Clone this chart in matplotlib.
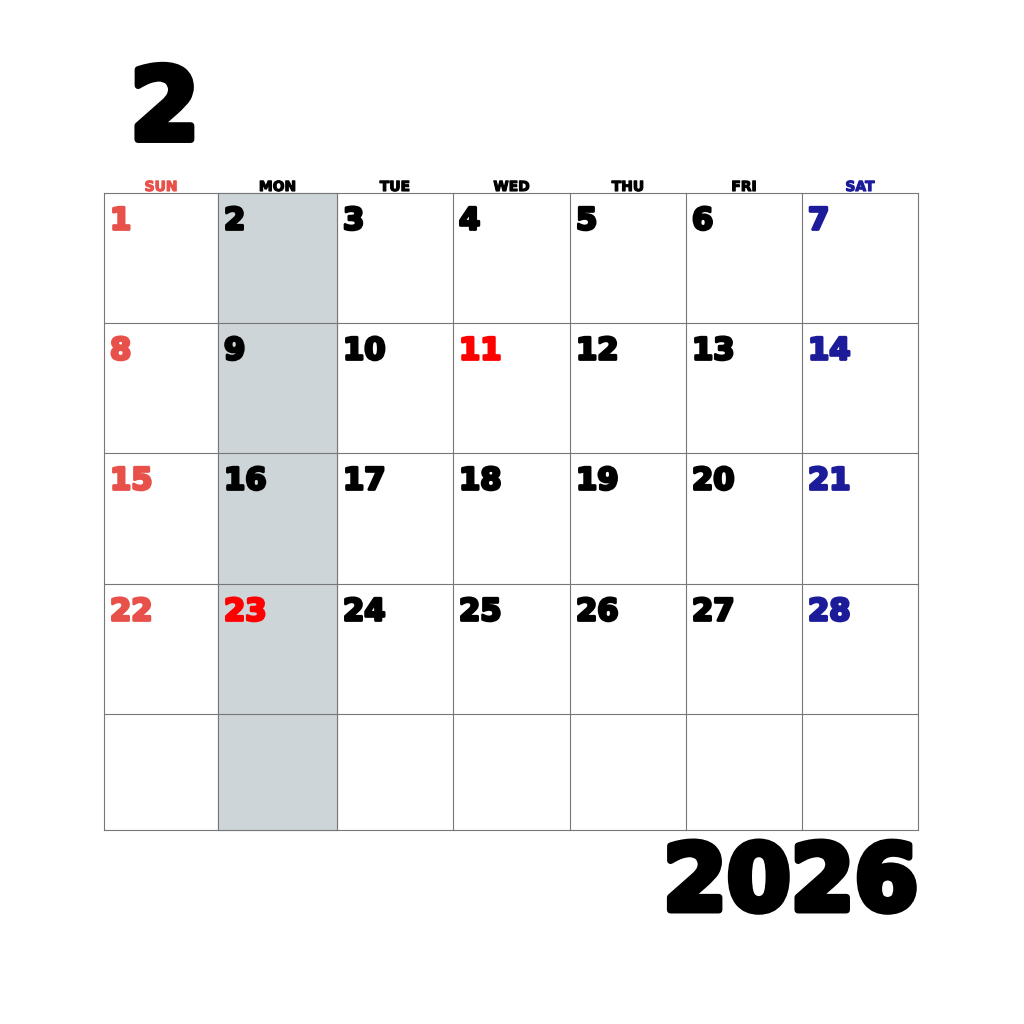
import matplotlib
matplotlib.use("Agg")
import matplotlib.pyplot as plt
import matplotlib.patheffects as pe

month = "2"
year = "2026"
weekdays = ["SUN", "MON", "TUE", "WED", "THU", "FRI", "SAT"]
days = list(range(1, 29))
first_weekday = 0  # Feb 1 2026 is Sunday
holidays = [11, 23]

col_edges = [104, 218, 337, 453, 570, 686, 802, 918]
row_edges = [193, 323, 453, 584, 714, 830]

sun_color = "#e8504a"
sat_color = "#1c1c9a"
hol_color = "#ff0000"
shade = "#cdd5d9"

fig = plt.figure(figsize=(10.24, 10.24), dpi=100)
ax = fig.add_axes([0, 0, 1, 1])
ax.set_xlim(0, 1024)
ax.set_ylim(1024, 0)
ax.axis("off")


def heavy(c, w):
    return [pe.withStroke(linewidth=w, foreground=c)]


# shaded Monday column
ax.add_patch(plt.Rectangle((col_edges[1], row_edges[0]), col_edges[2] - col_edges[1],
                           row_edges[-1] - row_edges[0], color=shade, zorder=0))

for x in col_edges:
    ax.plot([x, x], [row_edges[0], row_edges[-1]], color="#777777", lw=0.8)
for y in row_edges:
    ax.plot([col_edges[0], col_edges[-1]], [y, y], color="#777777", lw=0.8)

for i, wd in enumerate(weekdays):
    c = sun_color if i == 0 else sat_color if i == 6 else "black"
    cx = (col_edges[i] + col_edges[i + 1]) / 2
    ax.text(cx, 187, wd, ha="center", va="center", fontsize=10, fontweight="heavy",
            color=c, family="DejaVu Sans", path_effects=heavy(c, 0.8))

for d in days:
    idx = d - 1 + first_weekday
    col, row = idx % 7, idx // 7
    if d in holidays:
        c = hol_color
    elif col == 0:
        c = sun_color
    elif col == 6:
        c = sat_color
    else:
        c = "black"
    ax.text(col_edges[col] + 6, row_edges[row] + 28, str(d), ha="left", va="center",
            fontsize=22, fontweight="heavy", color=c, family="DejaVu Sans",
            path_effects=heavy(c, 2))

ax.text(130, 112, month, ha="left", va="center", fontsize=72, fontweight="heavy",
        color="black", family="DejaVu Sans", path_effects=heavy("black", 5))
ax.text(918, 884, year, ha="right", va="center", fontsize=66, fontweight="heavy",
        color="black", family="DejaVu Sans", path_effects=heavy("black", 5))

fig.savefig("out.png", dpi=100, facecolor="white")
